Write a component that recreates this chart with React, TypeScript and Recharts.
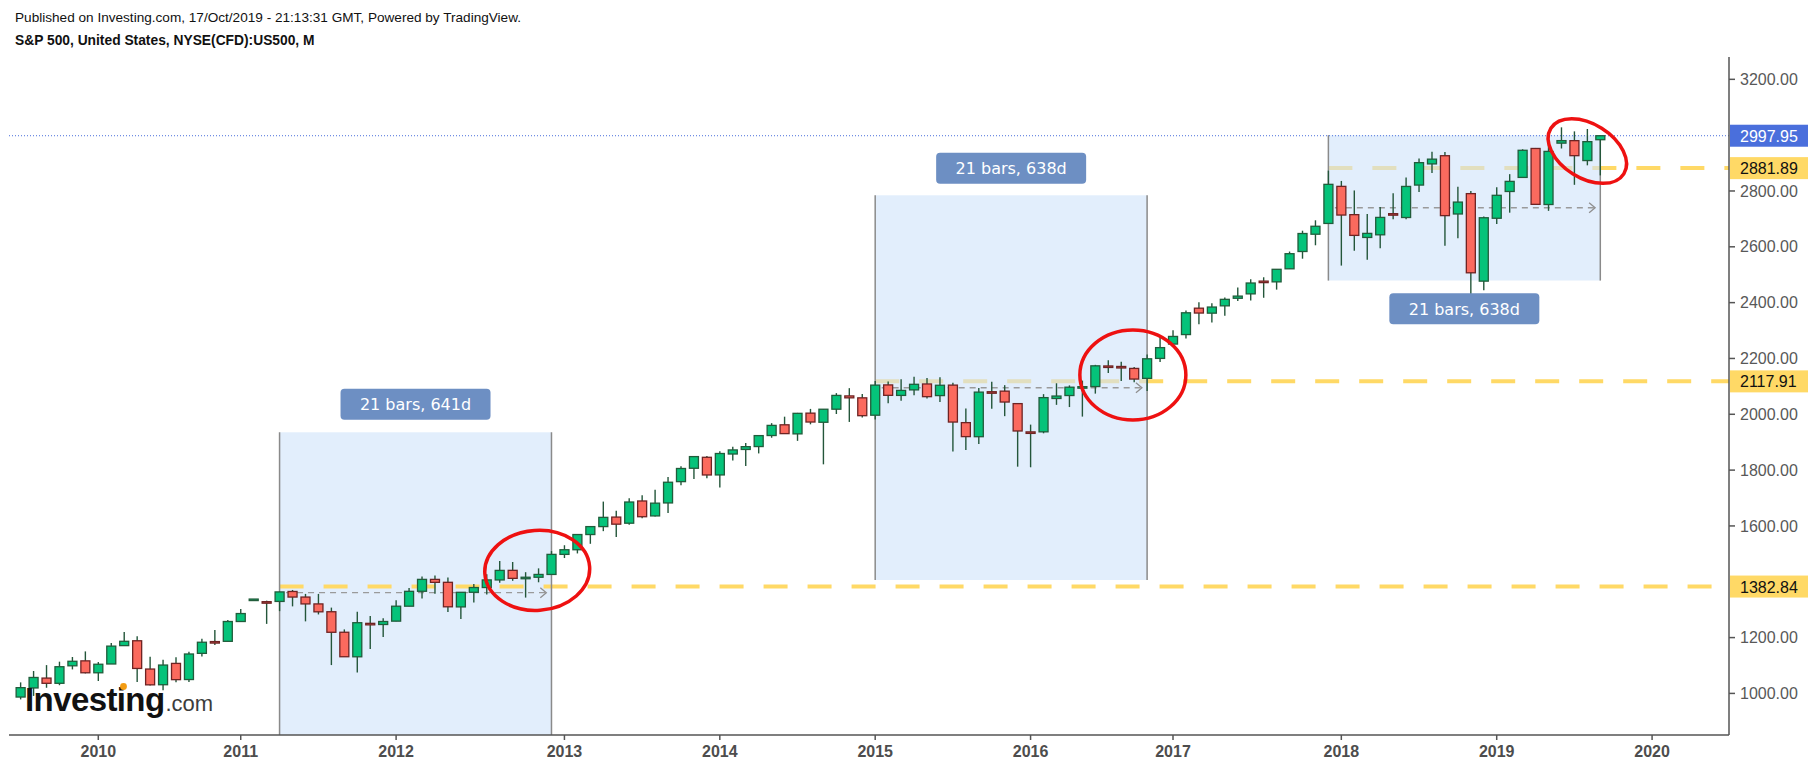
import React from "react";
import {
  ComposedChart,
  Bar,
  XAxis,
  YAxis,
  ReferenceArea,
  ReferenceLine,
  ReferenceDot,
} from "recharts";

// monthly candles, Aug 2009 .. Oct 2019 (index 0 = Aug 2009)
const opens = [
  987.0, 1019.5, 1054.9, 1036.2, 1098.9,
  1116.6, 1073.9, 1105.4, 1171.2, 1188.6, 1087.3, 1031.1, 1107.5, 1049.7, 1143.5, 1185.7, 1186.6,
  1257.6, 1335.0, 1328.6, 1329.5, 1365.2, 1345.2, 1320.6, 1292.6, 1219.1, 1131.2, 1251.0, 1246.9,
  1258.9, 1312.5, 1365.9, 1408.5, 1398.0, 1309.9, 1362.3, 1379.3, 1406.5, 1440.9, 1412.2, 1416.2,
  1426.2, 1498.1, 1514.7, 1569.2, 1597.6, 1631.7, 1609.8, 1689.4, 1635.9, 1682.4, 1758.7, 1806.6,
  1845.9, 1782.7, 1857.7, 1874.0, 1884.4, 1923.9, 1962.3, 1929.8, 2004.1, 1971.4, 2018.2, 2065.8,
  2058.9, 1996.7, 2105.2, 2067.6, 2087.4, 2108.6, 2067.0, 2104.5, 1970.1, 1919.7, 2080.8, 2082.9,
  2038.2, 1936.9, 1937.1, 2056.6, 2067.2, 2093.9, 2099.3, 2173.1, 2171.3, 2164.3, 2128.7, 2200.2,
  2251.6, 2285.6, 2380.1, 2362.3, 2388.5, 2415.6, 2431.4, 2477.1, 2474.4, 2521.2, 2583.2, 2645.1,
  2683.7, 2816.5, 2715.2, 2633.5, 2643.0, 2718.7, 2705.0, 2821.2, 2897.0, 2926.3, 2717.6, 2790.5,
  2477.0, 2702.3, 2798.2, 2848.6, 2952.3, 2751.5, 2971.4, 2980.3, 2909.0, 2983.7,
];
const highs = [
  1039.5, 1080.2, 1101.4, 1113.7, 1130.4,
  1150.5, 1112.4, 1180.7, 1219.8, 1205.1, 1131.2, 1120.9, 1129.2, 1148.9, 1196.1, 1227.1, 1262.6,
  1302.7, 1338.0, 1332.3, 1364.6, 1370.6, 1356.5, 1356.5, 1307.4, 1229.3, 1292.7, 1277.6, 1269.4,
  1333.5, 1378.0, 1419.2, 1422.4, 1415.3, 1363.5, 1391.7, 1426.7, 1474.5, 1470.9, 1434.3, 1448.0,
  1509.9, 1530.9, 1570.3, 1597.6, 1687.2, 1654.2, 1698.8, 1709.7, 1729.9, 1775.2, 1813.6, 1849.4,
  1850.8, 1867.9, 1884.0, 1897.3, 1924.0, 1968.2, 1991.4, 2005.0, 2019.3, 2018.9, 2075.8, 2093.6,
  2072.4, 2119.6, 2117.5, 2125.9, 2134.7, 2129.9, 2132.8, 2112.7, 2021.0, 2094.3, 2116.5, 2104.3,
  2038.2, 1963.0, 2072.2, 2111.1, 2103.5, 2120.6, 2177.1, 2193.8, 2187.9, 2169.6, 2214.1, 2277.5,
  2301.0, 2371.5, 2401.0, 2398.2, 2418.7, 2453.8, 2484.0, 2490.9, 2519.4, 2583.0, 2657.7, 2695.0,
  2872.9, 2836.0, 2801.9, 2717.5, 2742.2, 2791.5, 2848.0, 2916.5, 2940.9, 2939.9, 2815.2, 2800.2,
  2709.0, 2813.5, 2860.3, 2949.5, 2954.1, 2964.2, 3028.0, 3013.6, 3022.0, 2993.3,
];
const lows = [
  978.5, 991.0, 1020.2, 1029.4, 1085.9,
  1071.6, 1044.5, 1105.4, 1170.7, 1040.8, 1028.3, 1010.9, 1039.7, 1040.9, 1131.9, 1173.0, 1186.6,
  1257.6, 1335.0, 1249.1, 1294.7, 1311.8, 1258.1, 1282.9, 1101.5, 1136.2, 1074.8, 1158.7, 1202.4,
  1258.9, 1312.5, 1340.0, 1357.4, 1291.9, 1266.7, 1325.4, 1354.7, 1396.6, 1403.3, 1343.3, 1398.1,
  1426.2, 1485.0, 1501.5, 1536.0, 1581.3, 1560.3, 1604.6, 1627.5, 1633.4, 1646.5, 1746.2, 1767.9,
  1770.5, 1737.9, 1834.4, 1814.4, 1859.8, 1916.0, 1930.7, 1904.8, 1964.0, 1820.7, 2001.0, 1972.6,
  1988.1, 1980.9, 2039.7, 2048.4, 2067.9, 2056.3, 2044.0, 1867.0, 1871.9, 1893.7, 2019.4, 1993.3,
  1812.3, 1810.1, 1931.8, 2033.8, 2025.9, 1991.7, 2074.0, 2147.6, 2119.1, 2114.7, 2083.8, 2187.4,
  2245.1, 2271.7, 2322.3, 2329.0, 2352.7, 2405.7, 2407.7, 2417.4, 2446.6, 2520.4, 2557.4, 2605.5,
  2682.4, 2532.7, 2585.9, 2553.8, 2594.6, 2698.7, 2699.0, 2796.3, 2864.1, 2603.5, 2631.1, 2346.6,
  2444.0, 2681.8, 2722.3, 2848.6, 2750.5, 2728.8, 2952.2, 2822.1, 2891.9, 2855.9,
];
const closes = [
  1020.6, 1057.1, 1036.2, 1095.6, 1115.1,
  1073.9, 1104.5, 1169.4, 1186.7, 1089.4, 1030.7, 1101.6, 1049.3, 1141.2, 1183.3, 1180.6, 1257.6,
  1286.1, 1338.0, 1325.8, 1363.6, 1345.2, 1320.6, 1292.3, 1219.0, 1131.4, 1253.3, 1247.0, 1257.6,
  1312.4, 1365.7, 1408.5, 1397.9, 1310.3, 1362.2, 1379.3, 1406.6, 1440.7, 1412.2, 1416.2, 1426.2,
  1498.1, 1514.7, 1569.2, 1597.6, 1630.7, 1606.3, 1685.7, 1633.0, 1681.6, 1756.5, 1805.8, 1848.4,
  1782.6, 1859.5, 1872.3, 1884.0, 1923.6, 1960.2, 1930.7, 2003.4, 1972.3, 2018.1, 2067.6, 2058.9,
  1995.0, 2104.5, 2067.9, 2085.5, 2107.4, 2063.1, 2104.0, 1972.2, 1920.0, 2079.4, 2080.4, 2043.9,
  1940.2, 1932.2, 2059.7, 2065.3, 2097.0, 2098.9, 2173.6, 2171.0, 2168.3, 2126.2, 2198.8, 2238.8,
  2278.9, 2363.6, 2362.7, 2384.2, 2411.8, 2423.4, 2470.3, 2471.7, 2519.4, 2575.3, 2647.6, 2673.6,
  2823.8, 2713.8, 2640.9, 2648.1, 2705.3, 2718.4, 2816.3, 2901.5, 2914.0, 2711.7, 2760.2, 2506.9,
  2704.1, 2784.5, 2834.4, 2945.8, 2752.1, 2941.8, 2980.4, 2926.5, 2976.7, 2997.95,
];

const yearTicks = [6, 17, 29, 42, 54, 66, 78, 89, 102, 114, 126];
const yearLabels = ["2010", "2011", "2012", "2013", "2014", "2015", "2016", "2017", "2018", "2019", "2020"];
const priceTicks = [1000, 1200, 1600, 1800, 2000, 2200, 2400, 2600, 2800, 3200];

// date range boxes
const rangeStart = [20, 66, 101];
const rangeEnd = [41, 87, 122];
const rangeLow = [851, 1406, 2479];
const rangeHigh = [1936, 2785, 3000];
const rangeText = ["21 bars, 641d", "21 bars, 638d", "21 bars, 638d"];
const rangeTagPrice = [2036, 2881, 2378];
const rangeArrowPrice = [1361, 2095, 2740];

// horizontal levels
const levelPrices = [1382.84, 2117.91, 2881.89];
const levelStart = [20, 66, 101];
const lastPrice = 2997.95;

// red circles
const circleIdx = [39.9, 85.9, 121];
const circlePrice = [1441, 2141, 2943];

const X_MIN = -0.896;
const X_MAX = 131.94;
const Y_MIN = 851;
const Y_MAX = 3280;

const data = opens.map((o, i) => ({
  i,
  o,
  h: highs[i],
  l: lows[i],
  c: closes[i],
  range: [lows[i], highs[i]],
}));

const FONT = "'Liberation Sans', Arial, sans-serif";

const Candle = (props: any) => {
  const { x, y, width, height, payload } = props;
  if (!payload) return null;
  const { o, h, l, c } = payload;
  const top = Math.min(y, y + height);
  const span = Math.abs(height);
  const px = (v: number) => (h === l ? top : top + ((h - v) / (h - l)) * span);
  const up = c >= o;
  const cx = x + width / 2;
  const bTop = px(Math.max(o, c));
  const bBot = px(Math.min(o, c));
  return (
    <g>
      <line x1={cx} x2={cx} y1={top} y2={top + span} stroke="#24563a" strokeWidth={1.4} />
      <rect
        x={x}
        y={bTop}
        width={width}
        height={Math.max(bBot - bTop, 1.5)}
        fill={up ? "#05c37a" : "#fb6a5e"}
        stroke={up ? "#215c3b" : "#6e2323"}
        strokeWidth={1.3}
      />
    </g>
  );
};

const Ellipse = (rx: number, ry: number, rot: number) => (p: any) => (
  <ellipse
    cx={p.cx}
    cy={p.cy}
    rx={rx}
    ry={ry}
    transform={`rotate(${rot} ${p.cx} ${p.cy})`}
    fill="none"
    stroke="#ee1111"
    strokeWidth={3.5}
  />
);

const RangeTag = (text: string) => (p: any) => (
  <g>
    <rect x={p.cx - 75} y={p.cy - 15.5} width={150} height={31} rx={4} fill="#6d8fc3" />
    <text
      x={p.cx}
      y={p.cy + 6}
      textAnchor="middle"
      fontFamily="'DejaVu Sans', Verdana, sans-serif"
      fontSize={16}
      fill="#ffffff"
    >
      {text}
    </text>
  </g>
);

const PriceTag = (text: string, bg: string, fg: string) => (p: any) => (
  <g>
    <rect x={p.cx + 1} y={p.cy - 11} width={78} height={22} fill={bg} />
    <text x={p.cx + 11} y={p.cy + 6} fontFamily={FONT} fontSize={16} fill={fg}>
      {text}
    </text>
  </g>
);

const Chevron = (p: any) => (
  <path
    d={`M${p.cx - 6} ${p.cy - 5} L${p.cx} ${p.cy} L${p.cx - 6} ${p.cy + 5}`}
    fill="none"
    stroke="#8f8f8f"
    strokeWidth={1.3}
  />
);

export default function App() {
  return (
    <div style={{ position: "absolute", left: 0, top: 0, width: 1813, height: 769, background: "#fff" }}>
      <ComposedChart
        width={1813}
        height={769}
        data={data}
        margin={{ top: 57, right: 0, bottom: 0, left: 9 }}
      >
        <XAxis
          dataKey="i"
          type="number"
          domain={[X_MIN, X_MAX]}
          ticks={yearTicks}
          allowDataOverflow
          tickFormatter={(v: number) => yearLabels[yearTicks.indexOf(v)] ?? ""}
          height={34}
          tickSize={5}
          tickMargin={6}
          stroke="#555"
          strokeWidth={1.5}
          tick={{ fontSize: 16, fontWeight: 700, fill: "#4d4d4d", fontFamily: FONT }}
        />
        <YAxis
          orientation="right"
          type="number"
          domain={[Y_MIN, Y_MAX]}
          ticks={priceTicks}
          allowDataOverflow
          width={84}
          tickSize={6}
          tickMargin={5}
          stroke="#555"
          strokeWidth={1.5}
          tickFormatter={(v: number) => v.toFixed(2)}
          tick={{ fontSize: 16, fill: "#585858", fontFamily: FONT }}
        />

        {levelPrices.slice(1).map((v, k) => (
          <ReferenceLine
            key={`lvl${k}`}
            segment={[
              { x: levelStart[k + 1], y: v },
              { x: X_MAX, y: v },
            ]}
            stroke="#ffd966"
            strokeWidth={4}
            strokeDasharray="24 20"
            zIndex={10}
          />
        ))}

        {rangeStart.map((s, k) => (
          <ReferenceArea
            key={`box${k}`}
            x1={s}
            x2={rangeEnd[k]}
            y1={rangeLow[k]}
            y2={rangeHigh[k]}
            fill="#cfe3fa"
            fillOpacity={0.6}
            stroke="none"
            zIndex={20}
          />
        ))}

        <ReferenceLine
          segment={[
            { x: levelStart[0], y: levelPrices[0] },
            { x: X_MAX, y: levelPrices[0] },
          ]}
          stroke="#ffd966"
          strokeWidth={4}
          strokeDasharray="24 20"
          zIndex={30}
        />

        {rangeStart.map((s, k) =>
          [s, rangeEnd[k]].map((xv, j) => (
            <ReferenceLine
              key={`edge${k}${j}`}
              segment={[
                { x: xv, y: rangeLow[k] },
                { x: xv, y: rangeHigh[k] },
              ]}
              stroke="#8a8a8a"
              strokeWidth={1.5}
              zIndex={30}
            />
          ))
        )}

        {rangeStart.map((s, k) => (
          <ReferenceLine
            key={`arr${k}`}
            segment={[
              { x: s + 0.5, y: rangeArrowPrice[k] },
              { x: rangeEnd[k] - 0.4, y: rangeArrowPrice[k] },
            ]}
            stroke="#9a9a9a"
            strokeWidth={1.4}
            strokeDasharray="6 5"
            zIndex={30}
          />
        ))}
        {rangeStart.map((s, k) => (
          <ReferenceDot
            key={`chev${k}`}
            x={rangeEnd[k] - 0.4}
            y={rangeArrowPrice[k]}
            shape={Chevron}
            zIndex={30}
          />
        ))}

        <ReferenceLine
          y={lastPrice}
          stroke="#4a6fdc"
          strokeWidth={1}
          strokeDasharray="1 2"
          zIndex={30}
        />

        <Bar
          dataKey="range"
          barSize={9}
          shape={Candle}
          isAnimationActive={false}
          zIndex={300}
        />

        {circleIdx.map((ci, k) => (
          <ReferenceDot
            key={`circ${k}`}
            x={ci}
            y={circlePrice[k]}
            shape={Ellipse([52.5, 53, 43][k], [40, 45, 27][k], [-4, 0, 32][k])}
            zIndex={600}
          />
        ))}

        {rangeStart.map((s, k) => (
          <ReferenceDot
            key={`tag${k}`}
            x={(s + rangeEnd[k]) / 2}
            y={rangeTagPrice[k]}
            shape={RangeTag(rangeText[k])}
            zIndex={600}
          />
        ))}

        <ReferenceDot
          x={X_MAX}
          y={lastPrice}
          shape={PriceTag(lastPrice.toFixed(2), "#4a6fdc", "#ffffff")}
          zIndex={700}
        />
        {levelPrices.map((v, k) => (
          <ReferenceDot
            key={`pt${k}`}
            x={X_MAX}
            y={v}
            shape={PriceTag(v.toFixed(2), "#ffd966", "#111111")}
            zIndex={700}
          />
        ))}
      </ComposedChart>

      <svg
        width={1813}
        height={769}
        style={{ position: "absolute", left: 0, top: 0, pointerEvents: "none" }}
      >
        <text x={15} y={22} fontFamily={FONT} fontSize={13.6} fill="#111">
          Published on Investing.com, 17/Oct/2019 - 21:13:31 GMT, Powered by TradingView.
        </text>
        <text x={15} y={45} fontFamily={FONT} fontSize={13.8} fontWeight={700} fill="#111">
          S&amp;P 500, United States, NYSE(CFD):US500, M
        </text>
        <text x={25} y={711} fontFamily={FONT} fill="#111">
          <tspan fontSize={33} fontWeight={700} letterSpacing={-0.6}>
            Investing
          </tspan>
          <tspan fontSize={22} fill="#3c3c3c" dx={1}>
            .com
          </tspan>
        </text>
        <circle cx={123.5} cy={686.5} r={3.4} fill="#f39c12" />
      </svg>
    </div>
  );
}
